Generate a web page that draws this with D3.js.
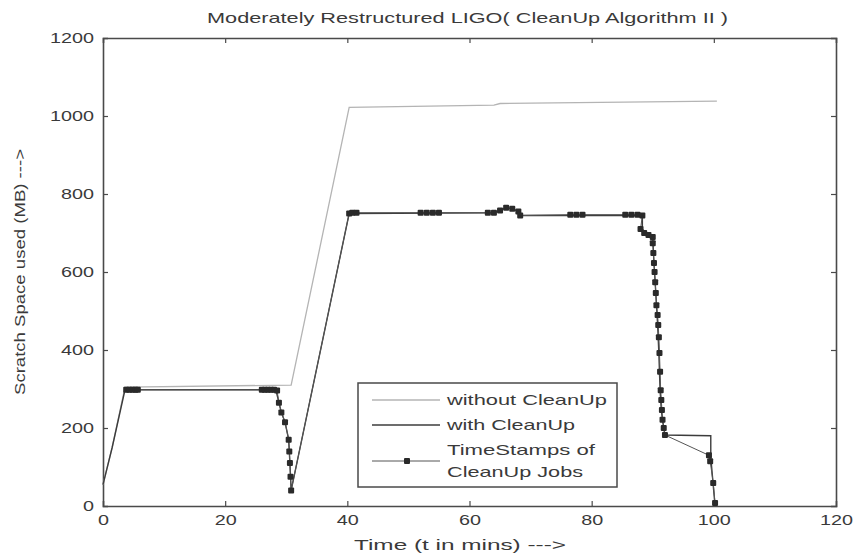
<!DOCTYPE html>
<html>
<head>
<meta charset="utf-8">
<script src="https://cdn.jsdelivr.net/npm/d3@7"></script>
<style>
html,body{margin:0;padding:0;background:#fff;}
svg{display:block;font-family:"Liberation Sans",Arial,Helvetica,sans-serif;}
</style>
</head>
<body>
<svg id="chart" width="853" height="556"></svg>
<script>
// ---- data ----
const titleText = "Moderately Restructured LIGO( CleanUp Algorithm II )";
const xLabel = "Time (t in mins) --->";
const yLabel = "Scratch Space used (MB) --->";
const xTicks = [0, 20, 40, 60, 80, 100, 120];
const yTicks = [0, 200, 400, 600, 800, 1000, 1200];
const legendLabels = [["without CleanUp"], ["with CleanUp"], ["TimeStamps of", "CleanUp Jobs"]];

// without CleanUp (time, MB)
const withoutX = [0, 1.5, 3.6, 30.8, 40.3, 64, 65, 100.5];
const withoutY = [55, 150, 305, 310, 1022, 1028, 1032, 1038];

// with CleanUp (time, MB)
const withX = [0, 1.5, 3.6, 28.3, 28.8, 29.2, 29.8, 30.4, 30.6, 30.8, 40.3, 64, 65, 66, 67, 68, 68.3, 88.3, 88.3, 89, 90, 90.2, 90.5, 90.8, 91, 91.2, 91.4, 91.6, 92, 99.5, 99.5, 100.2];
const withY = [55, 150, 298, 298, 265, 240, 215, 170, 110, 40, 750, 752, 758, 765, 762, 755, 745, 745, 710, 698, 690, 623, 546, 464, 392, 297, 246, 221, 182, 180, 125, 0];

// time stamps of cleanup jobs (time, MB)
const stampX = [3.8, 4.3, 4.8, 5.3, 5.7,
  26, 26.5, 27, 27.5, 28, 28.5, 28.8, 29.2, 29.8, 30.4, 30.5, 30.6, 30.7, 30.8,
  40.3, 40.8, 41.5,
  52, 53, 54, 55,
  63, 64, 65, 66, 67, 68, 68.3,
  76.5, 77.5, 78.5,
  85.5, 86.5, 87.5, 88.3, 88, 88.6, 89.3, 90,
  90, 90.1, 90.2, 90.3, 90.4, 90.5, 90.6, 90.8, 90.9, 91, 91.1, 91.2, 91.3, 91.4, 91.5, 91.6, 91.8, 92,
  99.2, 99.4, 99.9, 100.2];
const stampY = [298, 298, 298, 298, 298,
  298, 298, 298, 298, 298, 296, 265, 240, 215, 170, 140, 110, 75, 40,
  750, 752, 752,
  752, 752, 752, 752,
  752, 752, 758, 765, 762, 755, 745,
  747, 747, 747,
  747, 747, 747, 745, 710, 700, 695, 690,
  674, 649, 623, 600, 574, 546, 515, 490, 464, 433, 392, 344, 297, 272, 246, 221, 200, 182,
  130, 115, 59, 8];

// ---- layout ----
const svg = d3.select("#chart");
const L = 103, T = 38, R = 836, B = 506;
const x = d3.scaleLinear().domain([0, 120]).range([L, R]);
const y = d3.scaleLinear().domain([0, 1200]).range([B, T]);
const textCol = "#3a3a3a", axisCol = "#4a4a4a";

const zip = (a, b) => a.map((v, i) => [v, b[i]]);
const line = d3.line().x(d => x(d[0])).y(d => y(d[1]));

// axes (MATLAB box style, inward ticks)
const gB = svg.append("g").attr("transform", `translate(0,${B})`)
  .call(d3.axisBottom(x).tickValues(xTicks).tickSize(-5).tickPadding(8).tickFormat(d3.format("d")));
const gT = svg.append("g").attr("transform", `translate(0,${T})`)
  .call(d3.axisTop(x).tickValues(xTicks).tickSize(-5).tickFormat(""));
const gL = svg.append("g").attr("transform", `translate(${L},0)`)
  .call(d3.axisLeft(y).tickValues(yTicks).tickSize(-5).tickPadding(9).tickFormat(d3.format("d")));
const gR = svg.append("g").attr("transform", `translate(${R},0)`)
  .call(d3.axisRight(y).tickValues(yTicks).tickSize(-5).tickFormat(""));
[gB, gT, gL, gR].forEach(g => {
  g.select(".domain").attr("stroke", axisCol).attr("stroke-width", 1.6);
  g.selectAll(".tick line").attr("stroke", axisCol).attr("stroke-width", 1.2);
});
// suppress end ticks on box edges
gB.selectAll(".tick line").filter(d => d === 0 || d === 120).remove();
gT.selectAll(".tick line").filter(d => d === 0 || d === 120).remove();
gL.selectAll(".tick line").filter(d => d === 0 || d === 1200).remove();
gR.selectAll(".tick line").filter(d => d === 0 || d === 1200).remove();

gB.selectAll(".tick text").attr("font-size", 15).attr("fill", textCol)
  .attr("font-family", "Liberation Sans, Arial, sans-serif")
  .attr("textLength", d => String(d).length * 11).attr("lengthAdjust", "spacingAndGlyphs");
gL.selectAll(".tick text").attr("font-size", 15).attr("fill", textCol)
  .attr("font-family", "Liberation Sans, Arial, sans-serif")
  .attr("textLength", d => String(d).length * 11).attr("lengthAdjust", "spacingAndGlyphs");

// series
svg.append("path").datum(zip(withoutX, withoutY)).attr("d", line)
  .attr("fill", "none").attr("stroke", "#b4b4b4").attr("stroke-width", 1.3);
svg.append("path").datum(zip(withX, withY)).attr("d", line)
  .attr("fill", "none").attr("stroke", "#3c3c3c").attr("stroke-width", 1.4);
const stamps = zip(stampX, stampY);
svg.append("path").datum(stamps).attr("d", line)
  .attr("fill", "none").attr("stroke", "#555").attr("stroke-width", 1);
svg.append("g").selectAll("rect").data(stamps).join("rect")
  .attr("x", d => x(d[0]) - 3).attr("y", d => y(d[1]) - 3)
  .attr("width", 6).attr("height", 6).attr("rx", 1)
  .attr("fill", "#2a2a2a");

// title & axis labels
svg.append("text").attr("x", 467.5).attr("y", 23).attr("text-anchor", "middle")
  .attr("font-size", 15).attr("fill", textCol)
  .attr("textLength", 521).attr("lengthAdjust", "spacingAndGlyphs").text(titleText);
svg.append("text").attr("x", 460).attr("y", 550).attr("text-anchor", "middle")
  .attr("font-size", 15).attr("fill", textCol)
  .attr("textLength", 212).attr("lengthAdjust", "spacingAndGlyphs").text(xLabel);
svg.append("text").attr("transform", "translate(25,272) rotate(-90)").attr("text-anchor", "middle")
  .attr("font-size", 15).attr("fill", textCol)
  .attr("textLength", 246).attr("lengthAdjust", "spacingAndGlyphs").text(yLabel);

// legend
const lg = svg.append("g");
lg.append("rect").attr("x", 358).attr("y", 383).attr("width", 259).attr("height", 104)
  .attr("fill", "#fff").attr("stroke", axisCol).attr("stroke-width", 1.5);
const rowY = [400, 425, 461];
const textLens = [[160], [128], [148, 136]];
const sampleStyles = [
  {stroke: "#b4b4b4", w: 1.3, marker: false},
  {stroke: "#3c3c3c", w: 1.4, marker: false},
  {stroke: "#555", w: 1, marker: true}
];
legendLabels.forEach((lines, i) => {
  const st = sampleStyles[i];
  lg.append("line").attr("x1", 372).attr("x2", 440).attr("y1", rowY[i]).attr("y2", rowY[i])
    .attr("stroke", st.stroke).attr("stroke-width", st.w);
  if (st.marker) lg.append("rect").attr("x", 404).attr("y", rowY[i] - 3).attr("width", 6).attr("height", 6)
    .attr("rx", 1).attr("fill", "#2a2a2a");
  const y0 = lines.length === 1 ? rowY[i] + 5 : rowY[i] - 11 + 5;
  lines.forEach((t, j) => {
    lg.append("text").attr("x", 447).attr("y", y0 + j * 22).attr("font-size", 15)
      .attr("fill", textCol).attr("textLength", textLens[i][j]).attr("lengthAdjust", "spacingAndGlyphs").text(t);
  });
});
</script>
</body>
</html>
